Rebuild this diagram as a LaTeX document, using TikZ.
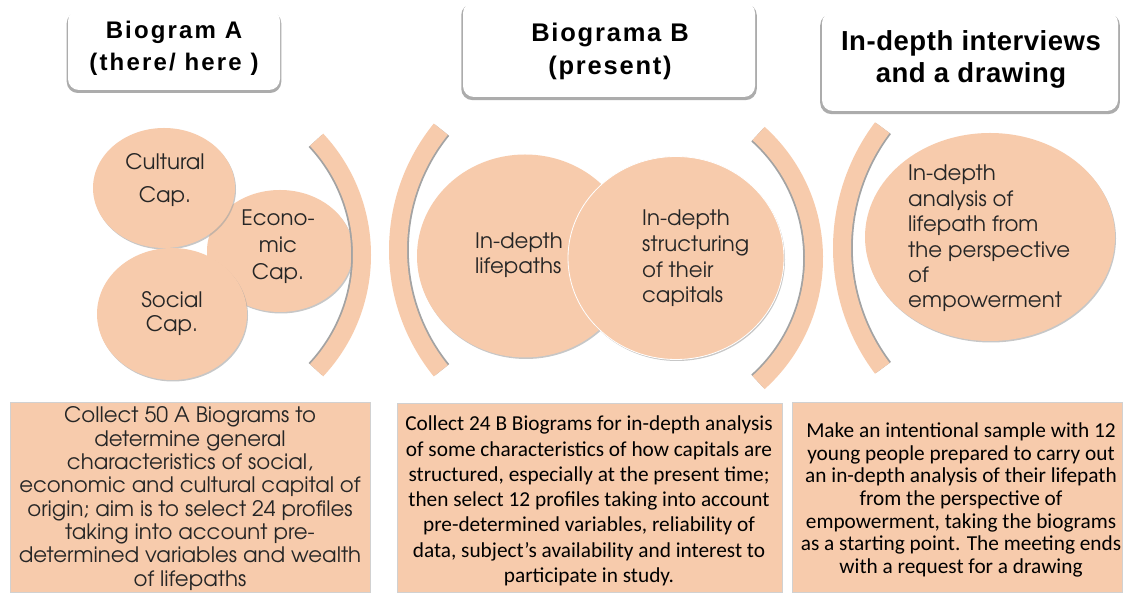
\documentclass[tikz,border=0pt]{standalone}
\usepackage{fontspec}
\usetikzlibrary{shapes.geometric,shadows}
\setmainfont{Liberation Sans}
\newfontfamily\gothic{TeX Gyre Adventor}
\newfontfamily\calib{Carlito}
\newfontfamily\ttlA{Liberation Sans}[LetterSpace=9]
\newfontfamily\ttlB{Liberation Sans}[LetterSpace=7]
\newfontfamily\ttlC{Liberation Sans}[LetterSpace=2]
\definecolor{peach}{HTML}{F7CBAC}
\definecolor{shad}{HTML}{A3A3A3}
\definecolor{ink}{HTML}{262626}
\tikzset{
  titlebox/.style={rectangle, rounded corners=11pt, fill=white, inner sep=0pt,
    drop shadow={shadow xshift=0pt, shadow yshift=-2.5pt, shadow scale=1.012, fill=shad, opacity=0.9}},
  blob/.style={ellipse, fill=peach, inner sep=0pt,
    drop shadow={shadow xshift=1pt, shadow yshift=-1.5pt, fill=shad, opacity=0.6}},
  blobw/.style={blob, draw=white, line width=0.8pt},
  gtext/.style={inner sep=0pt, text=ink, font=\gothic},
  infobox/.style={rectangle, fill=peach, draw=shad!50, line width=0.8pt, inner sep=0pt},
  arcshade/.style={draw=shad, line width=18pt},
  arcband/.style={draw=peach, line width=18pt},
}
\begin{document}
\begin{tikzpicture}[x=1pt,y=1pt]
\useasboundingbox (0,0) rectangle (1124,594);
\fill[white] (0,0) rectangle (1124,594);

% title boxes
\node[titlebox, minimum width=212pt, minimum height=80pt] (tA) at (174,544) {};
\node[titlebox, minimum width=292pt, minimum height=95pt] (tB) at (609,544.5) {};
\node[titlebox, minimum width=296pt, minimum height=99pt] (tC) at (970,532.5) {};
\node[inner sep=0pt, align=center, font=\ttlA\bfseries\fontsize{24}{32}\selectfont] (tAt) at (174,546) {Biogram A\\(there/ here )};
\node[inner sep=0pt, align=center, font=\ttlB\bfseries\fontsize{25.5}{33}\selectfont] (tBt) at (610,542.5) {Biograma B\\(present)};
\node[inner sep=0pt, align=center, font=\ttlC\bfseries\fontsize{27.5}{32}\selectfont] (tCt) at (971,535) {In-depth interviews\\and a drawing};

% section A blobs
\node[blob, minimum width=146pt, minimum height=122pt] (eco) at (280,343) {};
\node[blob, minimum width=142pt, minimum height=120pt] (cul) at (164,406) {};
\node[blob, minimum width=150pt, minimum height=132pt] (soc) at (172,280) {};
\node[gtext, align=center, font=\gothic\fontsize{21.3}{33}\selectfont] (culT) at (165,414) {Cultural\\Cap.};
\node[gtext, align=center, font=\gothic\fontsize{21.3}{27}\selectfont] (ecoT) at (278,347) {Econo-\\mic\\Cap.};
\node[gtext, align=center, font=\gothic\fontsize{21.3}{24}\selectfont] (socT) at (172,280.5) {Social\\Cap.};

% brackets
\draw[arcshade] (193,339) ++(-43:167.2) arc[start angle=-43, end angle=43, radius=167.2pt];
\draw[arcband]  (193,339) ++(-43:169) arc[start angle=-43, end angle=43, radius=169pt];
\draw[arcshade] (590,344) ++(141:190.2) arc[start angle=141, end angle=219, radius=190.2pt];
\draw[arcband]  (590,344) ++(141:192) arc[start angle=141, end angle=219, radius=192pt];
\draw[arcshade] (646.5,336) ++(-48:165.7) arc[start angle=-48, end angle=48, radius=165.7pt];
\draw[arcband]  (646.5,336) ++(-48:167.5) arc[start angle=-48, end angle=48, radius=167.5pt];
\draw[arcshade] (1042,346) ++(143:198.2) arc[start angle=143, end angle=217, radius=198.2pt];
\draw[arcband]  (1042,346) ++(143:200) arc[start angle=143, end angle=217, radius=200pt];

% section B blobs
\node[blob, minimum width=216pt, minimum height=203pt] (life) at (525,338) {};
\node[blobw, minimum width=216pt, minimum height=203pt] (struc) at (676,336) {};
\node[gtext, align=left, anchor=west, font=\gothic\fontsize{21.3}{25}\selectfont] (lifeT) at (475,338.5) {In-depth\\lifepaths};
\node[gtext, align=left, anchor=west, font=\gothic\fontsize{21.3}{25.7}\selectfont] (strucT) at (642,335.5) {In-depth\\structuring\\of their\\capitals};

% section C blob
\node[blob, minimum width=250pt, minimum height=208pt] (emp) at (990,357) {};
\node[gtext, align=left, anchor=west, font=\gothic\fontsize{21.3}{25.4}\selectfont] (empT) at (908,355.5) {In-depth\\analysis of\\lifepath from\\the perspective\\of\\empowerment};

% bottom boxes
\node[infobox, minimum width=360pt, minimum height=190pt] (bA) at (190,97) {};
\node[infobox, minimum width=385pt, minimum height=189pt] (bB) at (589.5,96.5) {};
\node[infobox, minimum width=330pt, minimum height=190pt] (bC) at (957,97) {};
\node[gtext, align=center, font=\gothic\fontsize{21.3}{23.3}\selectfont] (bAt) at (190,95.5) {Collect 50 A Biograms to\\determine general\\characteristics of social,\\economic and cultural capital of\\origin; aim is to select 24 profiles\\taking into account pre-\\determined variables and wealth\\of lifepaths};
\node[inner sep=0pt, text=black, align=center, font=\calib\fontsize{21.3}{25.3}\selectfont] (bBt) at (589,93) {Collect 24 B Biograms for in-depth analysis\\of some characteristics of how capitals are\\structured, especially at the present time;\\then select 12 profiles taking into account\\pre-determined variables, reliability of\\data, subject’s availability and interest to\\participate in study.};
\node[inner sep=0pt, text=black, align=center, font=\calib\fontsize{21.3}{22.7}\selectfont] (bCt) at (961,94) {Make an intentional sample with 12\\young people prepared to carry out\\an in-depth analysis of their lifepath\\from the perspective of\\empowerment, taking the biograms\\as a starting point. The meeting ends\\with a request for a drawing};
\end{tikzpicture}
\end{document}
